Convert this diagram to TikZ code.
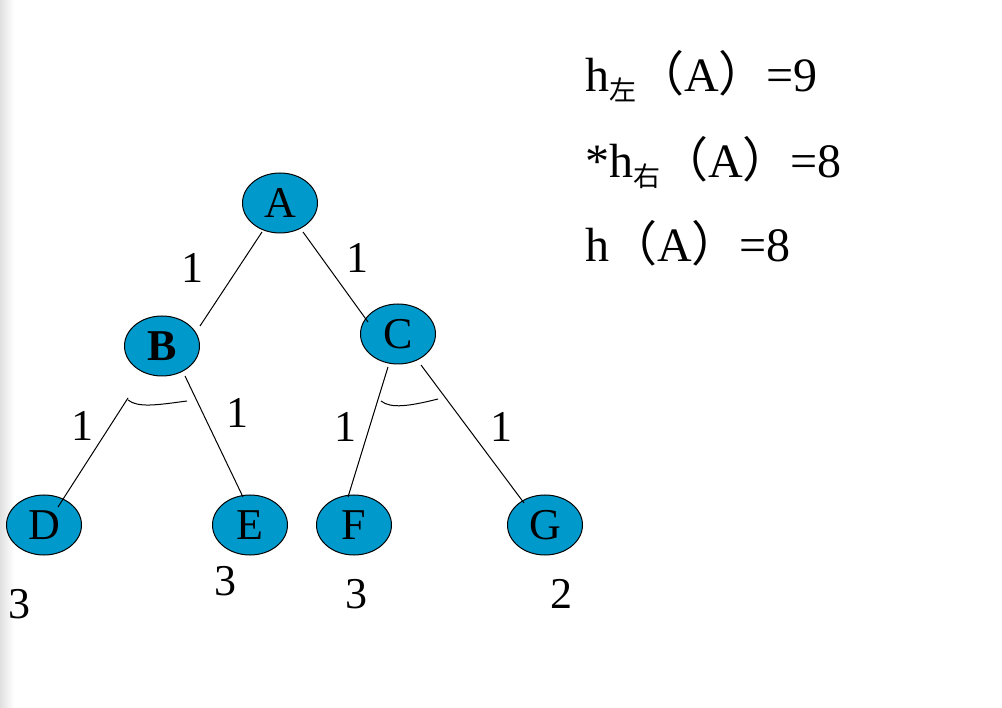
\documentclass[tikz,border=0pt]{standalone}
\usepackage{fontspec}
\setmainfont{Liberation Serif}
\newfontfamily\cjk{Noto Sans CJK SC}
\usetikzlibrary{shapes.geometric,calc}
\definecolor{nodeblue}{RGB}{0,153,204}
\tikzset{
  tnode/.style={ellipse,draw=black,line width=1pt,fill=nodeblue,minimum width=75pt,minimum height=60pt,inner sep=0pt,font=\fontsize{44}{44}\selectfont},
  wlabel/.style={inner sep=0pt,font=\fontsize{44}{44}\selectfont},
  edge/.style={line width=1pt},
  rtext/.style={anchor=base west,inner sep=0pt,font=\fontsize{48}{48}\selectfont},
}
\newcommand{\subcjk}[1]{\raisebox{-9pt}{\fontsize{27}{27}\cjk #1}}
\begin{document}
\begin{tikzpicture}[x=1pt,y=-1pt]
\useasboundingbox (0,0) rectangle (1002,708);
\shade[left color=black!12,right color=white] (0,0) rectangle (14,708);
\node[tnode] (A) at (280,203) {A};
\node[tnode] (B) at (162,346) {\textbf{B}};
\node[tnode] (C) at (398,334) {C};
\node[tnode] (D) at (44,525) {D};
\node[tnode] (E) at (250,525) {E};
\node[tnode] (F) at (354,525) {F};
\node[tnode] (G) at (545,525) {G};
\draw[edge] ($(A)+(-18,29)$) -- ($(B)+(38,-20)$);
\draw[edge] ($(A)+(23,29)$) -- ($(C)+(-30,-12)$);
\draw[edge] ($(B)+(-34,52)$) -- ($(D)+(14,-18)$);
\draw[edge] ($(B)+(23,30)$) -- ($(E)+(-7,-28)$);
\draw[edge] ($(C)+(-10,33)$) -- ($(F)+(-6,-28)$);
\draw[edge] ($(C)+(23,31)$) -- ($(G)+(-21,-22)$);
\draw[edge] ($(B)+(-34,54)$) .. controls ($(B)+(-24,62)$) and ($(B)+(-5,59)$) .. ($(B)+(25,55)$);
\draw[edge] ($(C)+(-17,67)$) .. controls ($(C)+(-7,75)$) and ($(C)+(12,72)$) .. ($(C)+(40,65)$);
\node[wlabel] (l1) at (192,268) {1};
\node[wlabel] (l2) at (357,258) {1};
\node[wlabel] (l3) at (82,426) {1};
\node[wlabel] (l4) at (237,413) {1};
\node[wlabel] (l5) at (345,427) {1};
\node[wlabel] (l6) at (501,427) {1};
\node[wlabel] (hD) at (20,604) {3};
\node[wlabel] (hE) at (225,581) {3};
\node[wlabel] (hF) at (356,594) {3};
\node[wlabel] (hG) at (561,594) {2};
\node[rtext] (t1) at (585,92) {h\subcjk{左}{\cjk（}A{\cjk）}=9};
\node[rtext] (t2) at (585,178) {*h\subcjk{右}{\cjk（}A{\cjk）}=8};
\node[rtext] (t3) at (585,262) {h{\cjk（}A{\cjk）}=8};
\end{tikzpicture}
\end{document}
